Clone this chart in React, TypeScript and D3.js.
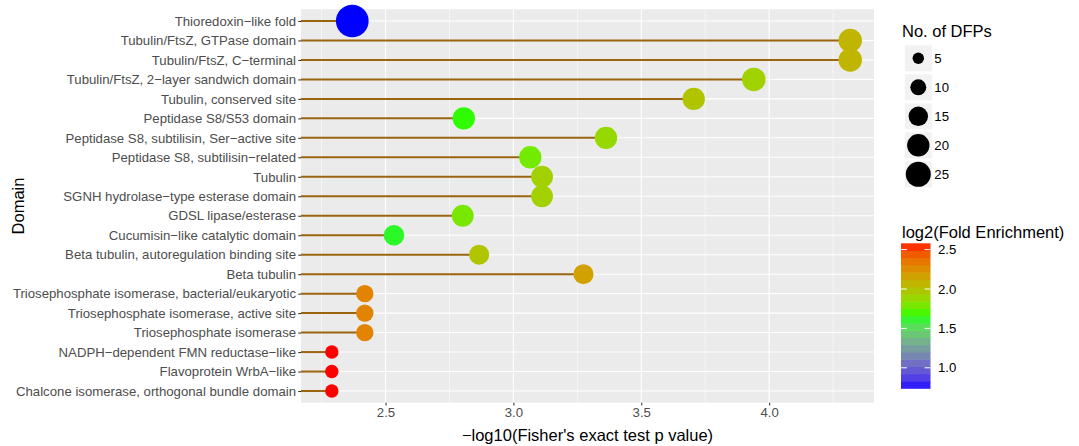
import React, { useRef, useEffect } from 'react';
import * as d3 from 'd3';

const categories = [
    'Thioredoxin\u2212like fold',
    'Tubulin/FtsZ, GTPase domain',
    'Tubulin/FtsZ, C\u2212terminal',
    'Tubulin/FtsZ, 2\u2212layer sandwich domain',
    'Tubulin, conserved site',
    'Peptidase S8/S53 domain',
    'Peptidase S8, subtilisin, Ser\u2212active site',
    'Peptidase S8, subtilisin\u2212related',
    'Tubulin',
    'SGNH hydrolase\u2212type esterase domain',
    'GDSL lipase/esterase',
    'Cucumisin\u2212like catalytic domain',
    'Beta tubulin, autoregulation binding site',
    'Beta tubulin',
    'Triosephosphate isomerase, bacterial/eukaryotic',
    'Triosephosphate isomerase, active site',
    'Triosephosphate isomerase',
    'NADPH\u2212dependent FMN reductase\u2212like',
    'Flavoprotein WrbA\u2212like',
    'Chalcone isomerase, orthogonal bundle domain',
];

// -log10(Fisher's exact test p value)
const pValues = [2.37, 4.317, 4.317, 3.94, 3.705, 2.806, 3.362, 3.066, 3.112, 3.112, 2.802, 2.533, 2.866, 3.274, 2.419, 2.419, 2.419, 2.29, 2.29, 2.29];
// No. of DFPs
const dfpCounts = [43, 22, 22, 22, 20, 20, 20, 20, 19, 19, 19, 17, 16, 16, 12, 12, 12, 7, 7, 7];
// log2(Fold Enrichment)
const log2FE = [0.74, 2.07, 2.07, 1.92, 1.99, 1.68, 1.88, 1.78, 1.93, 1.93, 1.8, 1.63, 1.99, 2.17, 2.3, 2.3, 2.3, 2.58, 2.58, 2.58];

const xTicks = [2.5, 3.0, 3.5, 4.0];
const xMinorTicks = [2.25, 2.75, 3.25, 3.75, 4.25];
const sizeBreaks = [5, 10, 15, 20, 25];
const colorBreaks = [1.0, 1.5, 2.0, 2.5];

const width = 1079;
const height = 446;
const font = '"Liberation Sans", Arial, sans-serif';
const tickFont = '13.2px';
const titleFont = '16.5px';

const App: React.FC = () => {
    const ref = useRef<SVGSVGElement | null>(null);

    useEffect(() => {
        const svg = d3.select(ref.current);
        svg.selectAll('*').remove();

        const panel = { left: 301, right: 874, top: 9.3, bottom: 402.7 };

        const x = d3.scaleLinear().domain([2.1695, 4.41]).range([panel.left, panel.right]);
        const y = d3.scalePoint<string>().domain(categories).range([panel.top, panel.bottom]).padding(0.6);

        const lo = d3.min(log2FE) as number;
        const hi = d3.max(log2FE) as number;
        const color = d3.scaleLinear<string>()
            .domain([lo, (lo + hi) / 2, hi])
            .range(['#0000ff', '#00ff00', '#ff0000'])
            .interpolate(d3.interpolateLab);

        const size = d3.scaleRadial().domain([5, 25]).range([5.7, 12.5]);

        // panel
        svg.append('rect')
            .attr('x', panel.left).attr('y', panel.top)
            .attr('width', panel.right - panel.left).attr('height', panel.bottom - panel.top)
            .attr('fill', '#ebebeb');

        const grid = svg.append('g');
        grid.selectAll('.minor')
            .data(xMinorTicks)
            .enter()
            .append('line')
            .attr('x1', (d) => x(d)).attr('x2', (d) => x(d))
            .attr('y1', panel.top).attr('y2', panel.bottom)
            .attr('stroke', '#fff').attr('stroke-width', 0.53);
        grid.selectAll('.majorx')
            .data(xTicks)
            .enter()
            .append('line')
            .attr('x1', (d) => x(d)).attr('x2', (d) => x(d))
            .attr('y1', panel.top).attr('y2', panel.bottom)
            .attr('stroke', '#fff').attr('stroke-width', 1.07);
        grid.selectAll('.majory')
            .data(categories)
            .enter()
            .append('line')
            .attr('x1', panel.left).attr('x2', panel.right)
            .attr('y1', (d) => y(d) as number).attr('y2', (d) => y(d) as number)
            .attr('stroke', '#fff').attr('stroke-width', 1.07);

        const rows = categories.map((c, i) => ({ c, p: pValues[i], n: dfpCounts[i], fe: log2FE[i] }));

        // lollipop stems
        svg.append('g').selectAll('line')
            .data(rows)
            .enter()
            .append('line')
            .attr('x1', panel.left)
            .attr('x2', (d) => x(d.p))
            .attr('y1', (d) => y(d.c) as number)
            .attr('y2', (d) => y(d.c) as number)
            .attr('stroke', '#9a6410')
            .attr('stroke-width', 2);

        svg.append('g').selectAll('circle')
            .data(rows)
            .enter()
            .append('circle')
            .attr('cx', (d) => x(d.p))
            .attr('cy', (d) => y(d.c) as number)
            .attr('r', (d) => size(d.n))
            .attr('fill', (d) => color(d.fe));

        // axes
        const xAxis = svg.append('g')
            .attr('transform', `translate(0,${panel.bottom})`)
            .call(d3.axisBottom(x).tickValues(xTicks).tickSize(2.74).tickPadding(2.2).tickFormat(d3.format('.1f')));
        const yAxis = svg.append('g')
            .attr('transform', `translate(${panel.left},0)`)
            .call(d3.axisLeft(y).tickSize(2.74).tickPadding(2.2));
        [xAxis, yAxis].forEach((ax) => {
            ax.select('.domain').remove();
            ax.selectAll('.tick line').attr('stroke', '#333333').attr('stroke-width', 1.07);
            ax.selectAll('.tick text')
                .attr('fill', '#4d4d4d')
                .style('font-family', font)
                .style('font-size', tickFont);
        });

        svg.append('text')
            .attr('x', (panel.left + panel.right) / 2)
            .attr('y', 441)
            .attr('text-anchor', 'middle')
            .style('font-family', font)
            .style('font-size', titleFont)
            .text('\u2212log10(Fisher\'s exact test p value)');

        svg.append('text')
            .attr('transform', `translate(24,${(panel.top + panel.bottom) / 2}) rotate(-90)`)
            .attr('text-anchor', 'middle')
            .style('font-family', font)
            .style('font-size', titleFont)
            .text('Domain');

        // size legend
        const sl = svg.append('g');
        sl.append('text')
            .attr('x', 902).attr('y', 37)
            .style('font-family', font).style('font-size', titleFont)
            .text('No. of DFPs');
        const keys = sl.selectAll('.key')
            .data(sizeBreaks)
            .enter()
            .append('g')
            .attr('transform', (d, i) => `translate(918.3,${58.3 + i * 29})`);
        keys.append('rect')
            .attr('x', -13.5).attr('y', -13).attr('width', 27).attr('height', 26)
            .attr('fill', '#f2f2f2');
        keys.append('circle')
            .attr('r', (d) => size(d))
            .attr('fill', '#000');
        keys.append('text')
            .attr('x', 16).attr('dy', '0.35em')
            .style('font-family', font).style('font-size', tickFont)
            .text((d) => d);

        // colour legend
        const barTop = 243.3;
        const barBottom = 388.3;
        const barX = 901;
        const barW = 29.5;
        const cy = d3.scaleLinear().domain([lo, hi]).range([barBottom, barTop]);
        const cl = svg.append('g');
        cl.append('text')
            .attr('x', 902).attr('y', 238)
            .style('font-family', font).style('font-size', titleFont)
            .text('log2(Fold Enrichment)');
        const nbin = 20;
        const bins = d3.range(nbin).map((i) => lo + ((i + 0.5) / nbin) * (hi - lo));
        const binH = (barBottom - barTop) / nbin;
        cl.selectAll('.bin')
            .data(bins)
            .enter()
            .append('rect')
            .attr('x', barX)
            .attr('y', (d, i) => barBottom - (i + 1) * binH)
            .attr('width', barW)
            .attr('height', binH + 0.5)
            .attr('fill', (d) => color(d));
        const ticks = cl.selectAll('.ctick')
            .data(colorBreaks)
            .enter()
            .append('g')
            .attr('transform', (d) => `translate(0,${cy(d)})`);
        ticks.append('line')
            .attr('x1', barX).attr('x2', barX + barW / 5)
            .attr('stroke', '#fff').attr('stroke-width', 1);
        ticks.append('line')
            .attr('x1', barX + barW * 4 / 5).attr('x2', barX + barW)
            .attr('stroke', '#fff').attr('stroke-width', 1);
        ticks.append('text')
            .attr('x', 938).attr('dy', '0.35em')
            .style('font-family', font).style('font-size', tickFont)
            .text((d) => d3.format('.1f')(d));
    }, []);

    return (
        <svg ref={ref} width={width} height={height} style={{ position: 'absolute', left: 0, top: 0, background: '#fff' }} />
    );
};

export default App;
